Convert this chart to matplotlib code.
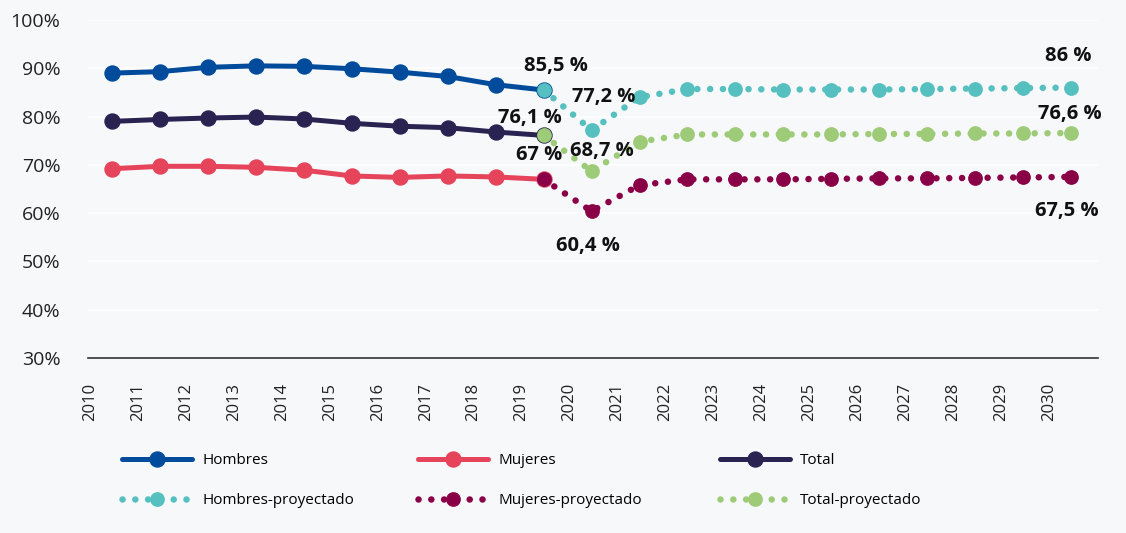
import matplotlib.pyplot as plt
from matplotlib.lines import Line2D

# tasas por año (%)
years = list(range(2010, 2031))
hombres = [89.0, 89.3, 90.2, 90.5, 90.4, 89.9, 89.2, 88.3, 86.6, 85.5]
mujeres = [69.2, 69.7, 69.7, 69.5, 68.9, 67.7, 67.4, 67.7, 67.5, 67.0]
total = [79.0, 79.4, 79.7, 79.9, 79.5, 78.6, 78.0, 77.7, 76.8, 76.1]
# proyecciones 2019-2030
hombres_proy = [85.5, 77.2, 84.0, 85.7, 85.7, 85.6, 85.6, 85.6, 85.7, 85.8, 85.9, 86.0]
mujeres_proy = [67.0, 60.4, 65.8, 67.0, 67.0, 67.0, 67.1, 67.2, 67.2, 67.3, 67.4, 67.5]
total_proy = [76.1, 68.7, 74.8, 76.3, 76.3, 76.3, 76.3, 76.4, 76.4, 76.5, 76.5, 76.6]
y_ticks = [30, 40, 50, 60, 70, 80, 90, 100]

BG = "#f7f8fa"
C_H, C_M, C_T = "#004b9b", "#e5445a", "#2a2352"
C_HP, C_MP, C_TP = "#56bfbf", "#8a0047", "#9dcb78"

plt.rcParams["font.family"] = ["Open Sans", "DejaVu Sans"]

fig = plt.figure(figsize=(11.26, 5.33), dpi=100, facecolor=BG)
ax = fig.add_axes([0.0782, 0.3283, 0.8969, 0.6342], facecolor=BG)

x_hist = list(range(len(hombres)))
x_proy = list(range(len(hombres) - 1, len(hombres) - 1 + len(hombres_proy)))

solid = dict(lw=3.6, marker="o", ms=10.8, solid_capstyle="round", zorder=3)
for vals, c in [(hombres, C_H), (mujeres, C_M), (total, C_T)]:
    ax.plot(x_hist, vals, color=c, **solid)

dotted = dict(lw=4.7, ls=(0, (0.01, 1.95)), dash_capstyle="round",
              marker="o", ms=9.6, zorder=4)
for vals, c in [(hombres_proy, C_HP), (mujeres_proy, C_MP), (total_proy, C_TP)]:
    ax.plot(x_proy, vals, color=c, **dotted)

# etiquetas de datos: (x, y, texto, dx px, dy px)
labels = [
    (x_hist[-1], hombres[-1], "85,5 %", 12, 24),
    (x_proy[1], hombres_proy[1], "77,2 %", 12, 33),
    (x_hist[-1], total[-1], "76,1 %", -14, 17),
    (x_hist[-1], mujeres[-1], "67 %", -4, 24),
    (x_proy[1], total_proy[1], "68,7 %", 10, 20),
    (x_proy[1], mujeres_proy[1], "60,4 %", -4, -35),
    (x_proy[-1], hombres_proy[-1], "86 %", -3, 32),
    (x_proy[-1], total_proy[-1], "76,6 %", -1, 19),
    (x_proy[-1], mujeres_proy[-1], "67,5 %", -4, -34),
]
for x, y, txt, dx, dy in labels:
    ax.annotate(txt, (x, y), xytext=(dx, dy), textcoords="offset pixels",
                ha="center", va="center", fontsize=14.5, fontweight="bold",
                color="#111111", zorder=6)

ax.set_ylim(30, 100)
ax.set_xlim(-0.5, 20.56)
ax.set_yticks(y_ticks)
ax.set_yticklabels([f"{v}%" for v in y_ticks], fontsize=14, color="#222222")
ax.set_xticks([i - 0.46 for i in range(len(years))])
ax.set_xticklabels([str(y) for y in years], rotation=90, fontsize=12,
                   color="#222222", va="top")
ax.tick_params(axis="both", length=0)
ax.tick_params(axis="y", pad=20)
ax.tick_params(axis="x", pad=18)
ax.grid(axis="y", color="white", lw=1.2)
ax.set_axisbelow(True)
for s in ["top", "right", "left"]:
    ax.spines[s].set_visible(False)
ax.spines["bottom"].set_color("#333333")
ax.spines["bottom"].set_linewidth(1.2)

# leyenda en tres columnas fijas
groups = [
    [("Hombres", C_H, solid), ("Hombres-proyectado", C_HP, dotted)],
    [("Mujeres", C_M, solid), ("Mujeres-proyectado", C_MP, dotted)],
    [("Total", C_T, solid), ("Total-proyectado", C_TP, dotted)],
]
col_x = [122, 418, 720]
for cx, grp in zip(col_x, groups):
    handles = []
    for name, c, st in grp:
        kw = {k: v for k, v in st.items() if k != "zorder"}
        handles.append(Line2D([], [], color=c, label=name, **kw))
    fig.legend(handles=handles, loc="center left",
               bbox_to_anchor=(cx / 1126, (533 - 480.5) / 533),
               frameon=False, fontsize=11, handlelength=4.6, handletextpad=0.65,
               labelspacing=1.65, borderpad=0, borderaxespad=0, numpoints=1)

fig.savefig("out.png", dpi=100, facecolor=BG)
